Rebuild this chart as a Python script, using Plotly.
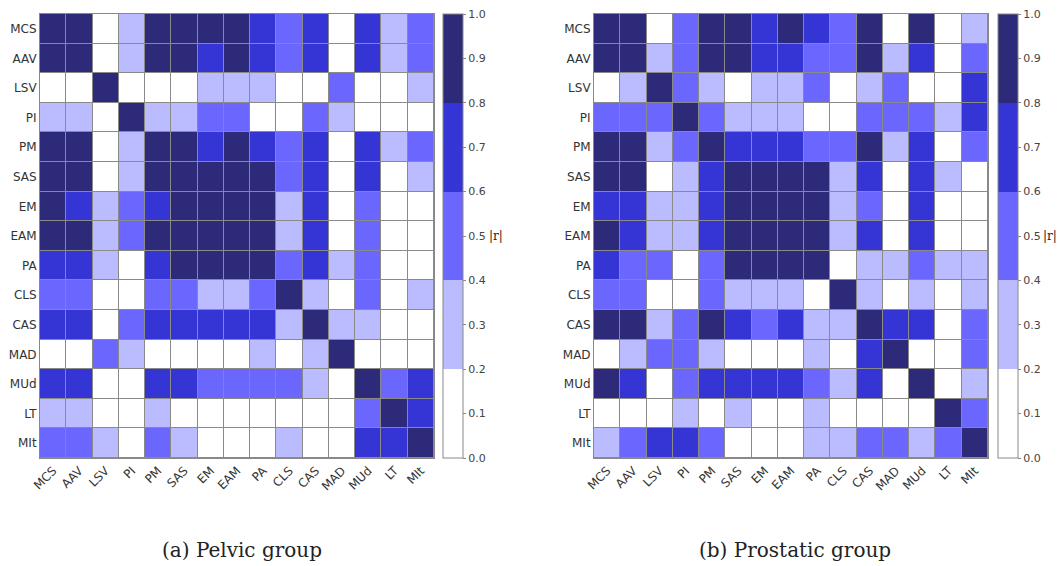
import plotly.graph_objects as go

labels = ["MCS", "AAV", "LSV", "PI", "PM", "SAS", "EM", "EAM", "PA", "CLS", "CAS", "MAD", "MUd", "LT", "MIt"]

pelvic = [
    [1.0, 0.9, 0.1, 0.3, 0.9, 0.9, 0.9, 0.9, 0.7, 0.5, 0.7, 0.1, 0.7, 0.3, 0.5],
    [0.9, 1.0, 0.1, 0.3, 0.9, 0.9, 0.7, 0.9, 0.7, 0.5, 0.7, 0.1, 0.7, 0.3, 0.5],
    [0.1, 0.1, 1.0, 0.1, 0.1, 0.1, 0.3, 0.3, 0.3, 0.1, 0.1, 0.5, 0.1, 0.1, 0.3],
    [0.3, 0.3, 0.1, 1.0, 0.3, 0.3, 0.5, 0.5, 0.1, 0.1, 0.5, 0.3, 0.1, 0.1, 0.1],
    [0.9, 0.9, 0.1, 0.3, 1.0, 0.9, 0.7, 0.9, 0.7, 0.5, 0.7, 0.1, 0.7, 0.3, 0.5],
    [0.9, 0.9, 0.1, 0.3, 0.9, 1.0, 0.9, 0.9, 0.9, 0.5, 0.7, 0.1, 0.7, 0.1, 0.3],
    [0.9, 0.7, 0.3, 0.5, 0.7, 0.9, 1.0, 0.9, 0.9, 0.3, 0.7, 0.1, 0.5, 0.1, 0.1],
    [0.9, 0.9, 0.3, 0.5, 0.9, 0.9, 0.9, 1.0, 0.9, 0.3, 0.7, 0.1, 0.5, 0.1, 0.1],
    [0.7, 0.7, 0.3, 0.1, 0.7, 0.9, 0.9, 0.9, 1.0, 0.5, 0.7, 0.3, 0.5, 0.1, 0.1],
    [0.5, 0.5, 0.1, 0.1, 0.5, 0.5, 0.3, 0.3, 0.5, 1.0, 0.3, 0.1, 0.5, 0.1, 0.3],
    [0.7, 0.7, 0.1, 0.5, 0.7, 0.7, 0.7, 0.7, 0.7, 0.3, 1.0, 0.3, 0.3, 0.1, 0.1],
    [0.1, 0.1, 0.5, 0.3, 0.1, 0.1, 0.1, 0.1, 0.3, 0.1, 0.3, 1.0, 0.1, 0.1, 0.1],
    [0.7, 0.7, 0.1, 0.1, 0.7, 0.7, 0.5, 0.5, 0.5, 0.5, 0.3, 0.1, 1.0, 0.5, 0.7],
    [0.3, 0.3, 0.1, 0.1, 0.3, 0.1, 0.1, 0.1, 0.1, 0.1, 0.1, 0.1, 0.5, 1.0, 0.7],
    [0.5, 0.5, 0.3, 0.1, 0.5, 0.3, 0.1, 0.1, 0.1, 0.3, 0.1, 0.1, 0.7, 0.7, 1.0],
]

prostatic = [
    [1.0, 0.9, 0.1, 0.5, 0.9, 0.9, 0.7, 0.9, 0.7, 0.5, 0.9, 0.1, 0.9, 0.1, 0.3],
    [0.9, 1.0, 0.3, 0.5, 0.9, 0.9, 0.7, 0.7, 0.5, 0.5, 0.9, 0.3, 0.7, 0.1, 0.5],
    [0.1, 0.3, 1.0, 0.5, 0.3, 0.1, 0.3, 0.3, 0.5, 0.1, 0.3, 0.5, 0.1, 0.1, 0.7],
    [0.5, 0.5, 0.5, 1.0, 0.5, 0.3, 0.3, 0.3, 0.1, 0.1, 0.5, 0.5, 0.5, 0.3, 0.7],
    [0.9, 0.9, 0.3, 0.5, 1.0, 0.7, 0.7, 0.7, 0.5, 0.5, 0.9, 0.3, 0.7, 0.1, 0.5],
    [0.9, 0.9, 0.1, 0.3, 0.7, 1.0, 0.9, 0.9, 0.9, 0.3, 0.7, 0.1, 0.7, 0.3, 0.1],
    [0.7, 0.7, 0.3, 0.3, 0.7, 0.9, 1.0, 0.9, 0.9, 0.3, 0.5, 0.1, 0.7, 0.1, 0.1],
    [0.9, 0.7, 0.3, 0.3, 0.7, 0.9, 0.9, 1.0, 0.9, 0.3, 0.7, 0.1, 0.7, 0.1, 0.1],
    [0.7, 0.5, 0.5, 0.1, 0.5, 0.9, 0.9, 0.9, 1.0, 0.1, 0.3, 0.3, 0.5, 0.3, 0.3],
    [0.5, 0.5, 0.1, 0.1, 0.5, 0.3, 0.3, 0.3, 0.1, 1.0, 0.3, 0.1, 0.3, 0.1, 0.3],
    [0.9, 0.9, 0.3, 0.5, 0.9, 0.7, 0.5, 0.7, 0.3, 0.3, 1.0, 0.7, 0.7, 0.1, 0.5],
    [0.1, 0.3, 0.5, 0.5, 0.3, 0.1, 0.1, 0.1, 0.3, 0.1, 0.7, 1.0, 0.1, 0.1, 0.5],
    [0.9, 0.7, 0.1, 0.5, 0.7, 0.7, 0.7, 0.7, 0.5, 0.3, 0.7, 0.1, 1.0, 0.1, 0.3],
    [0.1, 0.1, 0.1, 0.3, 0.1, 0.3, 0.1, 0.1, 0.3, 0.1, 0.1, 0.1, 0.1, 1.0, 0.5],
    [0.3, 0.5, 0.7, 0.7, 0.5, 0.1, 0.1, 0.1, 0.3, 0.3, 0.5, 0.5, 0.3, 0.5, 1.0],
]

captions = ["(a) Pelvic group", "(b) Prostatic group"]
cbar_ticks = [0.0, 0.1, 0.2, 0.3, 0.4, 0.5, 0.6, 0.7, 0.8, 0.9, 1.0]

c0, c1, c2, c3, c4 = "#ffffff", "#bbbbff", "#6b66fe", "#3535d6", "#2c2a79"
colorscale = [
    [0.0, c0], [0.2, c0], [0.2, c1], [0.4, c1], [0.4, c2],
    [0.6, c2], [0.6, c3], [0.8, c3], [0.8, c4], [1.0, c4],
]

fig = go.Figure()

W, H = 1059, 566
ydom = [1 - 458 / H, 1 - 14 / H]
xdoms = [[40 / W, 434 / W], [594 / W, 988 / W]]
cbx = [443 / W, 998 / W]
rx = [496 / W, 1050 / W]
capx = [242 / W, 795 / W]

for i, (mat, xdom) in enumerate(zip([pelvic, prostatic], xdoms)):
    xa = "x" if i == 0 else "x2"
    ya = "y" if i == 0 else "y2"
    fig.add_trace(go.Heatmap(
        z=mat, x=labels, y=labels, xaxis=xa, yaxis=ya,
        zmin=0, zmax=1, colorscale=colorscale, xgap=1, ygap=1,
        colorbar=dict(
            x=cbx[i], xanchor="left", xpad=0, ypad=0,
            y=ydom[0], yanchor="bottom", len=ydom[1] - ydom[0], lenmode="fraction",
            thickness=20, outlinecolor="#888888", outlinewidth=1,
            tickvals=cbar_ticks, ticktext=[f"{v:.1f}" for v in cbar_ticks],
            ticks="outside", ticklen=3, tickcolor="#888888",
            tickfont=dict(family="DejaVu Sans", size=11, color="#444444"),
        ),
    ))
    axkw = dict(showline=True, mirror=True, linecolor="#888888", linewidth=1,
                showgrid=False, zeroline=False, ticks="", automargin=False,
                tickfont=dict(family="DejaVu Sans", size=12, color="#333333"))
    fig.update_layout(**{
        ("xaxis" if i == 0 else "xaxis2"): dict(domain=xdom, anchor=ya, tickangle=-45, **axkw),
        ("yaxis" if i == 0 else "yaxis2"): dict(domain=ydom, anchor=xa, autorange="reversed", **axkw),
    })
    fig.add_annotation(x=rx[i], y=1 - 236 / H, xref="paper", yref="paper", text="|r|",
                       showarrow=False, xanchor="center", yanchor="middle",
                       font=dict(family="DejaVu Serif", size=12, color="#222222"))
    fig.add_annotation(x=capx[i], y=1 - 550 / H, xref="paper", yref="paper", text=captions[i],
                       showarrow=False, xanchor="center", yanchor="middle",
                       font=dict(family="DejaVu Serif", size=20, color="#222222"))

fig.update_layout(
    width=W, height=H, margin=dict(l=0, r=0, t=0, b=0),
    plot_bgcolor="#8a8a8a", paper_bgcolor="white", showlegend=False,
)

fig.write_html("out.html")
